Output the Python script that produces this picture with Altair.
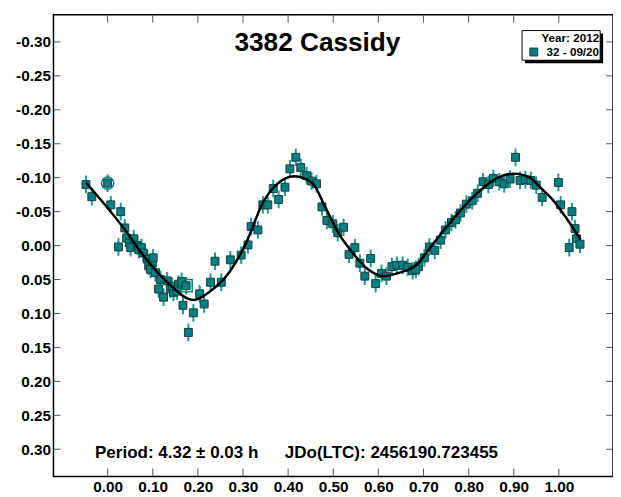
import altair as alt
import pandas as pd

# ---- data ----
PHASE = [-0.048, -0.035, 0.000, 0.007, 0.029, 0.038, 0.024, 0.042, 0.048, 0.051,
         0.058, 0.066, 0.069, 0.075, 0.079, 0.088, 0.091, 0.099, 0.101, 0.095,
         0.106, 0.117, 0.113, 0.124, 0.132, 0.139, 0.146, 0.143, 0.157, 0.154,
         0.164, 0.174, 0.167, 0.179, 0.190, 0.204, 0.214, 0.228, 0.238, 0.252,
         0.272, 0.296,
         0.311, 0.318, 0.333, 0.344, 0.355, 0.367, 0.379, 0.393, 0.404, 0.417,
         0.428, 0.441, 0.452, 0.463, 0.475, 0.486, 0.499, 0.510, 0.523, 0.535,
         0.548, 0.559, 0.570, 0.583, 0.594, 0.607, 0.618, 0.630, 0.641, 0.654,
         0.665, 0.676, 0.689,
         0.683, 0.702, 0.713, 0.725, 0.738, 0.749, 0.762, 0.771, 0.782, 0.795,
         0.808, 0.820, 0.832, 0.844, 0.855, 0.868, 0.879, 0.892, 0.904, 0.914,
         0.926, 0.938, 0.950, 0.963, 0.999, 1.004, 1.029, 1.036, 1.039, 1.023,
         1.047]
MAG = [-0.090, -0.072, -0.092, -0.060, -0.050, -0.026, 0.002, -0.011, -0.004, 0.003,
       -0.010, 0.000, 0.006, 0.003, 0.011, 0.020, 0.030, 0.025, 0.018, 0.035,
       0.040, 0.050, 0.064, 0.076, 0.052, 0.064, 0.069, 0.060, 0.057, 0.067,
       0.053, 0.059, 0.088, 0.128, 0.099, 0.071, 0.086, 0.054, 0.023, 0.054,
       0.021, 0.014,
       -0.001, -0.028, -0.023, -0.060, -0.060, -0.084, -0.068, -0.086, -0.113, -0.130,
       -0.115, -0.103, -0.095, -0.091, -0.057, -0.037, -0.032, -0.019, -0.027, 0.013,
       0.003, 0.026, 0.045, 0.019, 0.056, 0.041, 0.045, 0.031, 0.029, 0.029,
       0.032, 0.037, 0.031,
       0.035, 0.018, 0.002, 0.007, -0.008, -0.023, -0.034, -0.038, -0.048, -0.061,
       -0.066, -0.077, -0.094, -0.090, -0.099, -0.094, -0.091, -0.098, -0.130, -0.096,
       -0.097, -0.096, -0.089, -0.071, -0.093, -0.060, -0.050, -0.025, -0.010, 0.003,
       -0.002]
ERR = [0.013] * len(PHASE)

FIT_PHASE = [-0.048, 0.033, 0.081, 0.132, 0.191, 0.226, 0.270, 0.307, 0.344, 0.373,
             0.414, 0.454, 0.482, 0.511, 0.542, 0.577, 0.610, 0.651, 0.680, 0.717,
             0.752, 0.789, 0.827, 0.862, 0.899, 0.936, 0.958, 0.987, 1.015, 1.048]
FIT_MAG = [-0.093, -0.028, 0.016, 0.054, 0.080, 0.068, 0.039, -0.004, -0.063, -0.089,
           -0.102, -0.092, -0.057, -0.019, 0.010, 0.035, 0.045, 0.039, 0.031, 0.001,
           -0.028, -0.057, -0.082, -0.099, -0.106, -0.100, -0.086, -0.067, -0.042, -0.009]

CIRCLED = ([0.000], [-0.092])
BOXED = ([0.174], [0.059])

XTICKS = [0.0, 0.1, 0.2, 0.3, 0.4, 0.5, 0.6, 0.7, 0.8, 0.9, 1.0]
YTICKS = [-0.30, -0.25, -0.20, -0.15, -0.10, -0.05, 0.0, 0.05, 0.10, 0.15, 0.20, 0.25, 0.30]

TITLE = "3382 Cassidy"
PERIOD_TEXT = "Period: 4.32 ± 0.03 h"
JDO_TEXT = "JDo(LTC): 2456190.723455"
LEGEND_TITLE = "Year: 2012"
SESSION = "32 - 09/20"

# ---- layout ----
W, H = 566, 467
FONT = "Liberation Sans"
TEAL = "#008080"
BAR = "#169c9c"
EDGE = "#1e3c3c"
TICK = "#555555"

xscale = alt.Scale(domain=[-0.12, 1.12], nice=False, zero=False)
yscale = alt.Scale(domain=[-0.34, 0.34], reverse=True, nice=False, zero=False)

axis_common = dict(title=None, grid=False, domain=False, ticks=False,
                   labelFont=FONT, labelFontSize=15.5, labelFontWeight="bold",
                   labelColor="black", labelPadding=3,
                   labelExpr="replace(format(datum.value, '.2f'), '\u2212', '-')")
xaxis = alt.Axis(values=XTICKS, labelFlush=False, **axis_common)
yaxis = alt.Axis(values=YTICKS, **axis_common)

X = alt.X("phase:Q", scale=xscale, axis=xaxis)
Y = alt.Y("mag:Q", scale=yscale, axis=yaxis)

pts = pd.DataFrame({"phase": PHASE, "mag": MAG, "err": ERR})
pts["lo"] = pts["mag"] - pts["err"]
pts["hi"] = pts["mag"] + pts["err"]
pts["session"] = SESSION

fit = pd.DataFrame({"phase": FIT_PHASE, "mag": FIT_MAG})
xt = pd.DataFrame({"phase": XTICKS})
yt = pd.DataFrame({"mag": YTICKS})
one = pd.DataFrame({"a": [0]})

# legend frame with drop shadow (legend content is drawn by the real legend on top)
shadow = alt.Chart(one).mark_rect(color="black").encode(
    x=alt.value(477), x2=alt.value(556), y=alt.value(19), y2=alt.value(49))
frame = alt.Chart(one).mark_rect(fill="white", stroke="black", strokeWidth=1).encode(
    x=alt.value(474), x2=alt.value(553), y=alt.value(16), y2=alt.value(46))

bars = alt.Chart(pts).mark_rule(color=BAR, strokeWidth=2).encode(
    x=X, y=alt.Y("lo:Q", scale=yscale, axis=yaxis), y2="hi:Q")

points = alt.Chart(pts).mark_point(
    shape="square", filled=True, size=64, stroke=EDGE, strokeWidth=1, opacity=1
).encode(
    x=X, y=Y,
    color=alt.Color("session:N", scale=alt.Scale(range=[TEAL]),
                    legend=alt.Legend(
                        title=LEGEND_TITLE, orient="none", legendX=480, legendY=19,
                        padding=0,
                        titleFont=FONT, titleFontSize=11.8, titleFontWeight="bold",
                        titleColor="black", titleAnchor="end", titlePadding=1,
                        labelFont=FONT, labelFontSize=11.8, labelFontWeight="bold",
                        labelColor="black", labelOffset=7,
                        symbolType="square", symbolSize=64, symbolFillColor=TEAL,
                        symbolStrokeColor=EDGE, symbolStrokeWidth=1, symbolOpacity=1)))

circ = alt.Chart(pd.DataFrame({"phase": CIRCLED[0], "mag": CIRCLED[1]})).mark_point(
    shape="circle", filled=False, size=154, color=TEAL, strokeWidth=1.5, opacity=1
).encode(x=X, y=Y)

box = alt.Chart(pd.DataFrame({"phase": BOXED[0], "mag": BOXED[1]})).mark_point(
    shape="square", filled=False, size=150, color=TEAL, strokeWidth=1.5, opacity=1
).encode(x=X, y=Y)

curve = alt.Chart(fit).mark_line(color="black", strokeWidth=2.5, interpolate="monotone").encode(
    x=X, y=Y)

tb = alt.Chart(xt).mark_rule(color=TICK, strokeWidth=1).encode(x=X, y=alt.value(H), y2=alt.value(H - 8))
tt = alt.Chart(xt).mark_rule(color=TICK, strokeWidth=1).encode(x=X, y=alt.value(0), y2=alt.value(8))
tl = alt.Chart(yt).mark_rule(color=TICK, strokeWidth=1).encode(y=Y, x=alt.value(0), x2=alt.value(7))
tr = alt.Chart(yt).mark_rule(color=TICK, strokeWidth=1).encode(y=Y, x=alt.value(W), x2=alt.value(W - 7))

title = alt.Chart(pd.DataFrame({"t": [TITLE]})).mark_text(
    font=FONT, fontSize=26.5, fontWeight="bold", color="black", align="center", baseline="alphabetic"
).encode(text="t:N", x=alt.value(267), y=alt.value(37))

period = alt.Chart(pd.DataFrame({"t": [PERIOD_TEXT]})).mark_text(
    font=FONT, fontSize=17.2, fontWeight="bold", color="black", align="left", baseline="alphabetic"
).encode(text="t:N", x=alt.value(42), y=alt.value(448))

jdo = alt.Chart(pd.DataFrame({"t": [JDO_TEXT]})).mark_text(
    font=FONT, fontSize=17.2, fontWeight="bold", color="black", align="left", baseline="alphabetic"
).encode(text="t:N", x=alt.value(234), y=alt.value(448))

chart = alt.layer(
    shadow, frame, bars, points, circ, box, curve, tb, tt, tl, tr, title, period, jdo
).properties(
    width=W, height=H,
    autosize=alt.AutoSizeParams(type="none"),
    padding={"left": 46, "top": 4, "right": 0, "bottom": 18},
    background="white",
).configure_view(stroke="black", strokeWidth=1.5)

chart.save("out.html", embed_options={"renderer": "svg", "actions": False})
